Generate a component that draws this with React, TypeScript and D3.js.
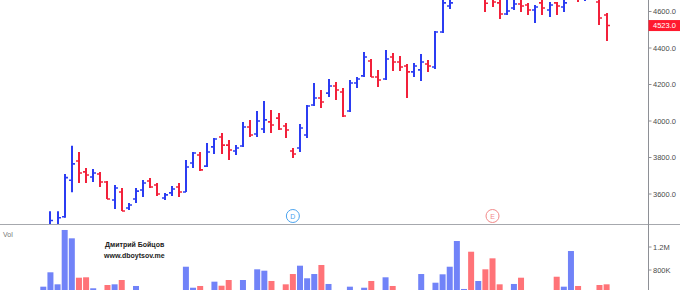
import React from 'react';
import * as d3 from 'd3';

// OHLC values (index 0..79)
const opens = [3400,3390,3430,3475,3675,3781,3721,3693,3710,3666,3567,3611,3523,3573,3622,3671,3649,3578,3606,3638,
  3611,3770,3814,3753,3858,3912,3868,3836,3863,3967,3929,3956,3995,4016,3973,3836,3852,3923,4088,4126,
  4153,4192,4159,4055,4208,4247,4329,4241,4230,4351,4323,4301,4269,4280,4312,4296,4488,4630,4690,4700,
  4695,4710,4672,4680,4647,4586,4619,4641,4636,4608,4647,4608,4647,4625,4680,4690,4670,4700,4652,4581];
const highs = [3425,3505,3505,3710,3865,3830,3743,3737,3721,3671,3649,3633,3551,3633,3677,3688,3660,3606,3644,3660,
  3786,3830,3830,3880,3907,3934,3896,3868,3995,4006,4055,4110,4060,4044,3989,3852,3984,4088,4208,4170,
  4230,4214,4181,4225,4241,4378,4340,4280,4389,4373,4356,4312,4318,4367,4334,4493,4690,4696,4730,4735,
  4725,4740,4690,4707,4685,4674,4680,4674,4647,4636,4668,4652,4652,4680,4700,4705,4710,4715,4680,4592];
const lows = [3370,3370,3400,3470,3610,3660,3660,3666,3638,3573,3518,3507,3512,3551,3584,3633,3589,3567,3589,3584,
  3611,3743,3726,3748,3819,3819,3786,3814,3858,3912,3912,3934,3934,3951,3907,3797,3830,3907,4082,4071,
  4132,4115,4022,4049,4181,4241,4241,4186,4225,4274,4274,4126,4241,4219,4269,4285,4482,4614,4670,4680,
  4675,4690,4597,4625,4559,4581,4608,4597,4581,4537,4581,4570,4581,4597,4670,4652,4658,4670,4526,4438];
const closes = [3415,3455,3470,3690,3765,3715,3704,3715,3666,3573,3633,3507,3540,3616,3660,3638,3600,3595,3627,3611,
  3748,3825,3732,3830,3901,3868,3841,3852,3967,3923,4000,4006,3978,3956,3951,3819,3962,4082,4126,4104,
  4192,4170,4027,4208,4230,4351,4241,4225,4340,4323,4296,4269,4301,4323,4301,4488,4647,4647,4720,4705,
  4685,4725,4645,4652,4586,4603,4641,4630,4608,4625,4619,4636,4630,4647,4690,4670,4690,4680,4564,4523];
// Volume in thousands
const volumes = [510,760,551,1496,1351,666,673,482,400,539,551,626,420,522,430,380,420,350,400,440,
  857,492,522,440,597,527,626,420,626,440,812,788,609,430,551,730,875,656,730,887,
  557,400,420,510,380,492,609,440,673,522,430,450,400,730,420,579,725,857,1304,470,
  1118,609,812,1003,551,430,557,666,400,420,380,400,683,510,1130,522,380,350,539,551];

const priceTicks = [3600, 3800, 4000, 4200, 4400, 4600];
const volumeTicks = [800, 1200];
const volumeTickLabels = ['800K', '1.2M'];
const lastPrice = 4523;
const events = [{ i: 35, label: 'D', color: '#4aa3ef' }, { i: 63, label: 'E', color: '#f28a8a' }];

const BLUE = '#2b3cf2';
const RED = '#f2203a';
const VBLUE = '#7183f8';
const VRED = '#ff7378';

export default function App() {
  const W = 680, H = 290;
  const axisX = 648.5;
  const paneBottom = 224.5;
  const n = opens.length;
  const x = d3.scaleLinear().domain([0, n - 1]).range([43.3, 606.6]);
  const y = d3.scaleLinear().domain([3600, 4600]).range([194, 11.5]);
  const yv = d3.scaleLinear().domain([0, 1200]).range([316, 247]);
  const font = 'Liberation Sans, Arial, sans-serif';

  return (
    <svg width={W} height={H} style={{ position: 'fixed', left: 0, top: 0, background: '#fff' }} fontFamily={font}>
      <defs>
        <clipPath id="pricePane"><rect x={0} y={0} width={axisX} height={paneBottom} /></clipPath>
        <clipPath id="volPane"><rect x={0} y={paneBottom + 0.5} width={axisX} height={H - paneBottom} /></clipPath>
      </defs>

      {/* volume bars */}
      <g clipPath="url(#volPane)">
        {volumes.map((v, i) => {
          const up = closes[i] >= opens[i];
          return (
            <rect key={i} x={x(i) - 3} y={yv(v)} width={6} height={yv(0) - yv(v)}
              fill={up ? VBLUE : VRED} />
          );
        })}
      </g>

      {/* OHLC bars */}
      <g clipPath="url(#pricePane)">
        {opens.map((o, i) => {
          const up = closes[i] >= o;
          const c = up ? BLUE : RED;
          const cx = Math.round(x(i));
          return (
            <g key={i} stroke={c} strokeWidth={2}>
              <line x1={cx} x2={cx} y1={y(highs[i])} y2={y(lows[i])} />
              <line x1={cx - 3} x2={cx} y1={y(o)} y2={y(o)} strokeWidth={1.6} />
              <line x1={cx} x2={cx + 3} y1={y(closes[i])} y2={y(closes[i])} strokeWidth={1.6} />
            </g>
          );
        })}
      </g>

      {/* event markers */}
      {events.map((e) => (
        <g key={e.label}>
          <circle cx={x(e.i)} cy={216} r={6.5} fill="#fff" stroke={e.color} strokeWidth={1} />
          <text x={x(e.i)} y={218.5} fontSize={7} textAnchor="middle" fill={e.color}>{e.label}</text>
        </g>
      ))}

      {/* pane separator and axis line */}
      <line x1={0} x2={W} y1={paneBottom} y2={paneBottom} stroke="#a6a8ad" strokeWidth={1} />
      <line x1={axisX} x2={axisX} y1={0} y2={H} stroke="#8e9096" strokeWidth={1} />

      {/* price axis */}
      {priceTicks.map((p) => (
        <g key={p}>
          <line x1={axisX} x2={axisX + 3} y1={y(p)} y2={y(p)} stroke="#8e9096" />
          <text x={653} y={y(p) + 2.7} fontSize={7.5} fill="#4a4a4a">{p.toFixed(1)}</text>
        </g>
      ))}
      <rect x={axisX} y={y(lastPrice) - 5.5} width={W - axisX} height={11} fill="#ff1a2e" />
      <text x={653} y={y(lastPrice) + 2.7} fontSize={7.5} fill="#fff">{lastPrice.toFixed(1)}</text>

      {/* volume axis */}
      {volumeTicks.map((v, k) => (
        <g key={v}>
          <line x1={axisX} x2={axisX + 3} y1={yv(v)} y2={yv(v)} stroke="#8e9096" />
          <text x={653} y={yv(v) + 2.7} fontSize={7.5} fill="#4a4a4a">{volumeTickLabels[k]}</text>
        </g>
      ))}

      <text x={3} y={237} fontSize={7} fill="#777">Vol</text>
      <text x={105} y={247} fontSize={7} fontWeight="bold" fill="#222">Дмитрий Бойцов</text>
      <text x={104} y={257.5} fontSize={7} fontWeight="bold" fill="#222">www.dboytsov.me</text>
    </svg>
  );
}
